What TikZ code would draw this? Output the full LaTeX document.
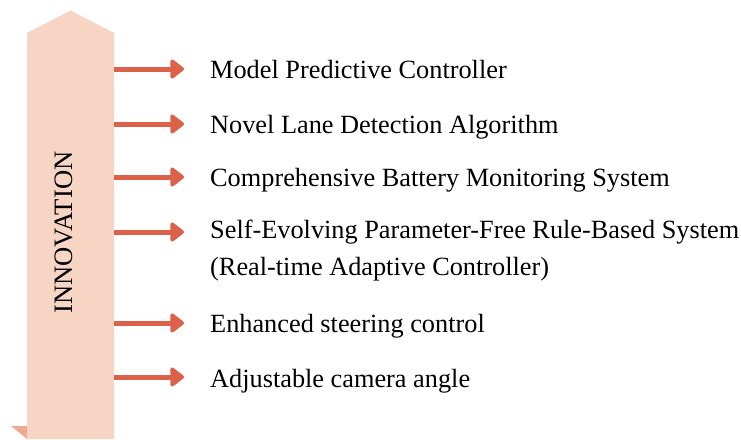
\documentclass[tikz,border=0pt]{standalone}
\usepackage{fontspec}
\setmainfont{Liberation Serif}
\usetikzlibrary{arrows.meta}
\definecolor{colfill}{HTML}{F6D5C4}
\definecolor{foldfill}{HTML}{EFAA95}
\definecolor{arrowred}{HTML}{DB6249}
\tikzset{
  itemarrow/.style={draw=arrowred, line width=5pt,
    -{Triangle[length=15pt,width=22pt,round]}},
  itemtext/.style={anchor=base west, inner sep=0pt, align=left,
    font=\fontsize{26.3}{37}\selectfont},
}
\begin{document}
\begin{tikzpicture}[x=1pt,y=-1pt]
\useasboundingbox (0,0) rectangle (741,439);
% small folded corner at the foot of the column
\fill[foldfill] (11,426) -- (27,426) -- (27,439) -- cycle;
% vertical arrow-shaped column
\fill[colfill] (27,439) -- (27,33) -- (70.5,10.5) -- (114,33) -- (114,439) -- cycle;
\node[rotate=90, inner sep=0pt, font=\fontsize{26.6}{30}\selectfont] (innov) at (63.5,232.5) {INNOVATION};

% items (the base of a two-line node is its last line)
\node[itemtext] (t1) at (210,78) {Model Predictive Controller};
\node[itemtext] (t2) at (210,133) {Novel Lane Detection Algorithm};
\node[itemtext] (t3) at (210,186) {Comprehensive Battery Monitoring System};
\node[itemtext] (t4) at (210,275) {Self-Evolving Parameter-Free Rule-Based System\\(Real-time Adaptive Controller)};
\node[itemtext] (t5) at (210,332) {Enhanced steering control};
\node[itemtext] (t6) at (210,387) {Adjustable camera angle};

% arrow start and end points
\foreach \i/\y in {1/69,2/124,3/177,4/232,5/323,6/377}{
  \coordinate (s\i) at (114,\y);
  \coordinate (e\i) at (184,\y);
  \draw[itemarrow] (s\i) -- (e\i);
}
\end{tikzpicture}
\end{document}
